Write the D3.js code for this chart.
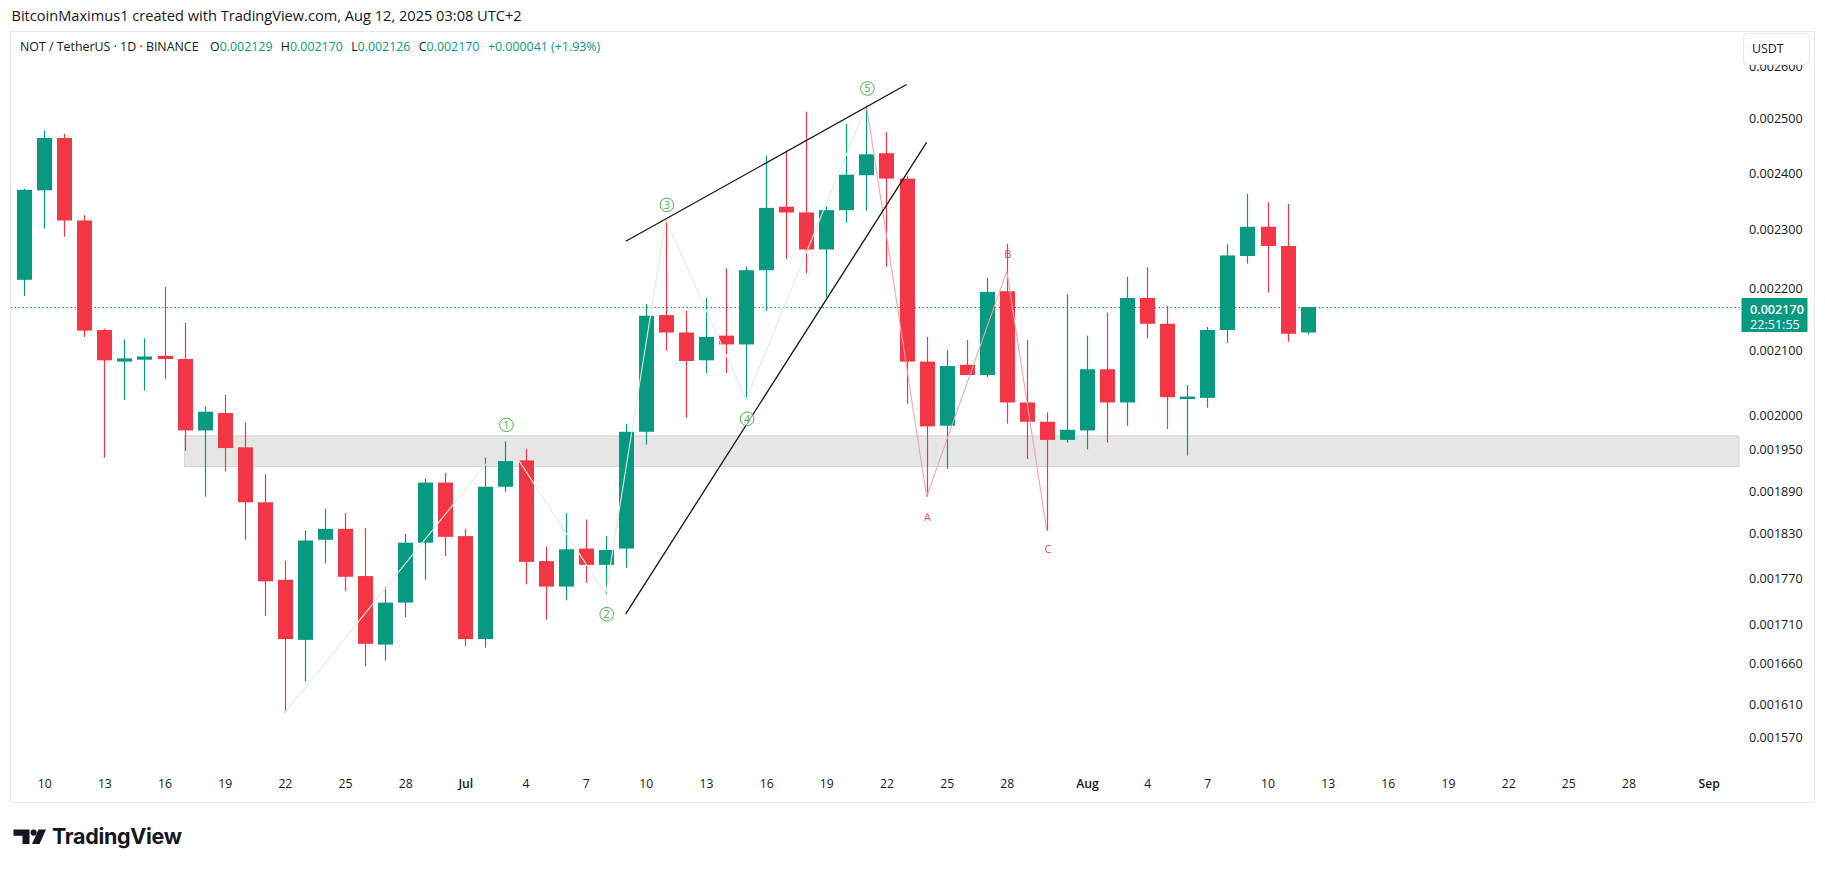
<!doctype html>
<html>
<head>
<meta charset="utf-8">
<script src="https://cdnjs.cloudflare.com/ajax/libs/d3/7.8.5/d3.min.js"></script>
<style>
  body { margin: 0; background: #fff; }
  svg { display: block; font-family: "Open Sans", "Noto Sans", sans-serif; }
</style>
</head>
<body>
<svg id="chart" width="1825" height="871"></svg>
<script>
// NOT / USDT daily candles
const dates = ["2025-06-09","2025-06-10","2025-06-11","2025-06-12","2025-06-13","2025-06-14","2025-06-15","2025-06-16","2025-06-17","2025-06-18",
  "2025-06-19","2025-06-20","2025-06-21","2025-06-22","2025-06-23","2025-06-24","2025-06-25","2025-06-26","2025-06-27","2025-06-28",
  "2025-06-29","2025-06-30","2025-07-01","2025-07-02","2025-07-03","2025-07-04","2025-07-05","2025-07-06","2025-07-07","2025-07-08",
  "2025-07-09","2025-07-10","2025-07-11","2025-07-12","2025-07-13","2025-07-14","2025-07-15","2025-07-16","2025-07-17","2025-07-18",
  "2025-07-19","2025-07-20","2025-07-21","2025-07-22","2025-07-23","2025-07-24","2025-07-25","2025-07-26","2025-07-27","2025-07-28",
  "2025-07-29","2025-07-30","2025-07-31","2025-08-01","2025-08-02","2025-08-03","2025-08-04","2025-08-05","2025-08-06","2025-08-07",
  "2025-08-08","2025-08-09","2025-08-10","2025-08-11","2025-08-12"];
const opens = [0.002215,0.002369,0.002464,0.002316,0.002133,0.002083,0.002086,0.002092,0.002087,0.001978,
  0.002004,0.001953,0.001874,0.001768,0.001690,0.001822,0.001837,0.001773,0.001684,0.001738,
  0.001818,0.001902,0.001827,0.001691,0.001896,0.001934,0.001793,0.001759,0.001810,0.001788,
  0.001810,0.001976,0.002157,0.002129,0.002085,0.002124,0.002110,0.002231,0.002340,0.002330,
  0.002266,0.002334,0.002396,0.002436,0.002390,0.002083,0.001985,0.002078,0.002062,0.002196,
  0.002020,0.001991,0.001964,0.001978,0.002071,0.002020,0.002185,0.002143,0.002027,0.002027,
  0.002133,0.002255,0.002305,0.002272,0.002129];
const highs = [0.002372,0.002478,0.002472,0.002325,0.002135,0.002118,0.002120,0.002203,0.002145,0.002014,
  0.002032,0.001990,0.001914,0.001794,0.001835,0.001865,0.001859,0.001838,0.001759,0.001830,
  0.001908,0.001916,0.001837,0.001938,0.001964,0.001951,0.001813,0.001859,0.001850,0.001827,
  0.001988,0.002175,0.002317,0.002164,0.002185,0.002234,0.002237,0.002432,0.002440,0.002513,
  0.002341,0.002490,0.002525,0.002475,0.002395,0.002122,0.002101,0.002117,0.002218,0.002276,
  0.002117,0.002005,0.002191,0.002124,0.002161,0.002220,0.002236,0.002172,0.002047,0.002138,
  0.002275,0.002363,0.002348,0.002345,0.002170];
const lows = [0.002188,0.002302,0.002288,0.002122,0.001938,0.002024,0.002038,0.002056,0.001948,0.001882,
  0.001918,0.001822,0.001721,0.001600,0.001638,0.001790,0.001753,0.001657,0.001664,0.001719,
  0.001768,0.001800,0.001682,0.001680,0.001889,0.001762,0.001716,0.001741,0.001764,0.001749,
  0.001784,0.001957,0.002100,0.001997,0.002065,0.002065,0.002024,0.002164,0.002250,0.002226,
  0.002186,0.002312,0.002333,0.002237,0.002018,0.001882,0.001922,0.002062,0.002059,0.001988,
  0.001936,0.001834,0.001960,0.001950,0.001960,0.001985,0.002120,0.001980,0.001941,0.002012,
  0.002112,0.002242,0.002194,0.002114,0.002126];
const closes = [0.002370,0.002464,0.002316,0.002132,0.002085,0.002088,0.002091,0.002087,0.001978,0.002006,
  0.001952,0.001874,0.001766,0.001691,0.001821,0.001837,0.001772,0.001685,0.001738,0.001818,
  0.001902,0.001826,0.001691,0.001896,0.001933,0.001792,0.001759,0.001809,0.001788,0.001808,
  0.001976,0.002156,0.002129,0.002084,0.002122,0.002110,0.002231,0.002338,0.002330,0.002266,
  0.002334,0.002397,0.002434,0.002390,0.002083,0.001984,0.002076,0.002062,0.002195,0.002020,
  0.001991,0.001964,0.001979,0.002071,0.002020,0.002185,0.002143,0.002028,0.002029,0.002133,
  0.002256,0.002305,0.002272,0.002127,0.002170];

const priceTicks = [0.0026,0.0025,0.0024,0.0023,0.0022,0.0021,0.0020,0.00195,0.00189,0.00183,0.00177,0.00171,0.00166,0.00161,0.00157];
const timeTicks = ["2025-06-10","2025-06-13","2025-06-16","2025-06-19","2025-06-22","2025-06-25","2025-06-28","2025-07-01",
  "2025-07-04","2025-07-07","2025-07-10","2025-07-13","2025-07-16","2025-07-19","2025-07-22","2025-07-25","2025-07-28","2025-08-01",
  "2025-08-04","2025-08-07","2025-08-10","2025-08-13","2025-08-16","2025-08-19","2025-08-22","2025-08-25","2025-08-28","2025-09-01"];
const timeLabels = ["10","13","16","19","22","25","28","Jul","4","7","10","13","16","19","22","25","28","Aug",
  "4","7","10","13","16","19","22","25","28","Sep"];

// drawings
const waveDates = ["2025-06-22","2025-07-03","2025-07-08","2025-07-11","2025-07-15","2025-07-21"];
const wavePrices = [0.001600,0.001964,0.001749,0.002317,0.002024,0.002525];
const waveLabels = ["","1","2","3","4","5"];
const abcDates = ["2025-07-21","2025-07-24","2025-07-28","2025-07-30"];
const abcPrices = [0.002525,0.001882,0.002229,0.001834];
const abcLabels = ["","A","B","C"];
const zoneStart = "2025-06-17";
const zonePrices = [0.001925,0.00197];
const upperDates = ["2025-07-09","2025-07-23"], upperPrices = [0.00228,0.002565];
const lowerDates = ["2025-07-09","2025-07-24"], lowerPrices = [0.0017234,0.002456];
const lastPrice = 0.002170;

const parse = d3.utcParse("%Y-%m-%d");
const svg = d3.select("#chart");
const green = "#089981", red = "#f23645";

const paneL = 10.5, paneR = 1741, paneT = 31.5, paneB = 770;

const x = d3.scaleUtc().domain([parse("2025-06-10"), parse("2025-09-01")]).range([44.2, 1708.7]);
const y = d3.scaleLog().domain([0.00157, 0.0025]).range([737.9, 118.7]);

// header
svg.append("text").attr("x", 11.5).attr("y", 21).attr("font-size", 14.6).attr("fill", "#131722")
  .text("BitcoinMaximus1 created with TradingView.com, Aug 12, 2025 03:08 UTC+2");

// frame
svg.append("rect").attr("x", paneL).attr("y", paneT).attr("width", 1814.5 - paneL).attr("height", 802.5 - paneT)
  .attr("fill", "#fff").attr("stroke", "#e6e8ee");

svg.append("clipPath").attr("id", "pane").append("rect")
  .attr("x", paneL + 0.5).attr("y", paneT + 0.5).attr("width", paneR - paneL).attr("height", paneB - paneT);
const g = svg.append("g").attr("clip-path", "url(#pane)");

// zone
g.append("rect")
  .attr("x", x(parse(zoneStart))).attr("y", y(zonePrices[1]))
  .attr("width", paneR - x(parse(zoneStart)) - 2).attr("height", y(zonePrices[0]) - y(zonePrices[1]))
  .attr("fill", "#e6e6e6").attr("stroke", "#d4d4d4");

// last price dotted line
g.append("line").attr("x1", paneL).attr("x2", paneR).attr("y1", Math.round(y(lastPrice)) + 0.5).attr("y2", Math.round(y(lastPrice)) + 0.5)
  .attr("stroke", green).attr("stroke-dasharray", "1.5,2.5").attr("stroke-width", 1);

// candles
const candles = dates.map((d, i) => ({ t: parse(d), o: opens[i], h: highs[i], l: lows[i], c: closes[i] }));
const cg = g.selectAll("g.candle").data(candles).enter().append("g").attr("class", "candle");
cg.append("line")
  .attr("x1", d => Math.round(x(d.t)) + 0.5).attr("x2", d => Math.round(x(d.t)) + 0.5)
  .attr("y1", d => y(d.h)).attr("y2", d => y(d.l))
  .attr("stroke", d => d.c >= d.o ? green : red).attr("stroke-width", 1.2);
cg.append("rect")
  .attr("x", d => Math.round(x(d.t)) - 7)
  .attr("width", 15)
  .attr("y", d => y(Math.max(d.o, d.c)))
  .attr("height", d => Math.max(2.5, Math.abs(y(d.o) - y(d.c))))
  .attr("fill", d => d.c >= d.o ? green : red);

// wave lines
const waveLine = d3.line().x(d => x(parse(d[0]))).y(d => y(d[1]));
g.append("path").datum(waveDates.map((d, i) => [d, wavePrices[i]]))
  .attr("d", waveLine).attr("fill", "none").attr("stroke", "#deefdf").attr("stroke-width", 1.1);
g.append("path").datum(abcDates.map((d, i) => [d, abcPrices[i]]))
  .attr("d", waveLine).attr("fill", "none").attr("stroke", "#f4a3aa").attr("stroke-width", 1.1);

// wedge lines
g.append("line").attr("x1", x(parse(upperDates[0]))).attr("y1", y(upperPrices[0]))
  .attr("x2", x(parse(upperDates[1]))).attr("y2", y(upperPrices[1])).attr("stroke", "#131313").attr("stroke-width", 1.3);
g.append("line").attr("x1", x(parse(lowerDates[0]))).attr("y1", y(lowerPrices[0]))
  .attr("x2", x(parse(lowerDates[1]))).attr("y2", y(lowerPrices[1])).attr("stroke", "#131313").attr("stroke-width", 1.3);

// wave labels
const waveOff = [0, -15, 20, -15, 19, -17];
waveDates.forEach((d, i) => {
  if (!waveLabels[i]) return;
  const cx = x(parse(d)) + 1, cy = y(wavePrices[i]) + waveOff[i];
  g.append("circle").attr("cx", cx).attr("cy", cy).attr("r", 6.8)
    .attr("fill", "#fff").attr("fill-opacity", 0.6).attr("stroke", "#4caf50").attr("stroke-width", 1);
  g.append("text").attr("x", cx).attr("y", cy + 4).attr("text-anchor", "middle")
    .attr("font-size", 11).attr("fill", "#4caf50").text(waveLabels[i]);
});
const abcOff = [0, 20, -17, 18];
abcDates.forEach((d, i) => {
  if (!abcLabels[i]) return;
  g.append("text").attr("x", x(parse(d)) + 1).attr("y", y(abcPrices[i]) + abcOff[i] + 4)
    .attr("text-anchor", "middle").attr("font-size", 11).attr("fill", "#ef4d5a").text(abcLabels[i]);
});

// legend
const leg = svg.append("text").attr("x", 20).attr("y", 51).attr("font-size", 12.4).attr("fill", "#131722");
leg.append("tspan").text("NOT / TetherUS · 1D · BINANCE");
[["O", "0.002129"], ["H", "0.002170"], ["L", "0.002126"], ["C", "0.002170"]].forEach((p, i) => {
  leg.append("tspan").attr("dx", i === 0 ? 11.5 : 8.3).text(p[0]);
  leg.append("tspan").attr("fill", green).text(p[1]);
});
leg.append("tspan").attr("dx", 8.5).attr("fill", green).text("+0.000041 (+1.93%)");

// price axis
const yAxis = svg.append("g").attr("transform", "translate(1745,0)")
  .call(d3.axisRight(y).tickValues(priceTicks).tickFormat(d3.format(".6f")).tickSize(0).tickPadding(4));
yAxis.select(".domain").remove();
yAxis.selectAll("text").attr("font-family", "Open Sans").attr("font-size", 12.6).attr("fill", "#131722");

// USDT button
svg.append("rect").attr("x", 1743.5).attr("y", 33.5).attr("width", 66).attr("height", 31).attr("rx", 4)
  .attr("fill", "#fff").attr("stroke", "#e6e8ee");
svg.append("text").attr("x", 1752).attr("y", 53).attr("font-size", 12.4).attr("fill", "#131722").text("USDT");

// last price tag
const tagY = y(lastPrice);
svg.append("rect").attr("x", 1741.5).attr("y", tagY - 9).attr("width", 66).attr("height", 34).attr("rx", 1).attr("fill", green);
svg.append("text").attr("x", 1750).attr("y", tagY + 6.5).attr("font-size", 12.6).attr("font-weight", 600).attr("fill", "#fff")
  .text(d3.format(".6f")(lastPrice));
svg.append("text").attr("x", 1750).attr("y", tagY + 21.5).attr("font-size", 12.6).attr("fill", "#fff").text("22:51:55");

// time axis
const xAxis = svg.append("g").attr("transform", "translate(0,779)")
  .call(d3.axisBottom(x).tickValues(timeTicks.map(parse)).tickFormat((d, i) => timeLabels[i]).tickSize(0).tickPadding(0));
xAxis.select(".domain").remove();
xAxis.selectAll("text").attr("font-family", "Open Sans").attr("font-size", 12.2).attr("fill", "#131722")
  .attr("font-weight", (d, i) => isNaN(+timeLabels[i]) ? 600 : 400);

// TradingView logo
const logo = svg.append("g").attr("fill", "#131722");
logo.append("path").attr("d", "M13.5,829.5 H29.5 V844 H22.5 V835.8 H13.5 Z");
logo.append("circle").attr("cx", 33.6).attr("cy", 832.6).attr("r", 3.1);
logo.append("path").attr("d", "M38.5,829.5 H46 L39.5,844 H32 Z");
logo.append("text").attr("x", 52).attr("y", 844).attr("font-size", 21.5).attr("font-weight", 700)
  .attr("font-family", "Inter, 'Open Sans', sans-serif").attr("letter-spacing", -0.3).text("TradingView");
</script>
</body>
</html>
